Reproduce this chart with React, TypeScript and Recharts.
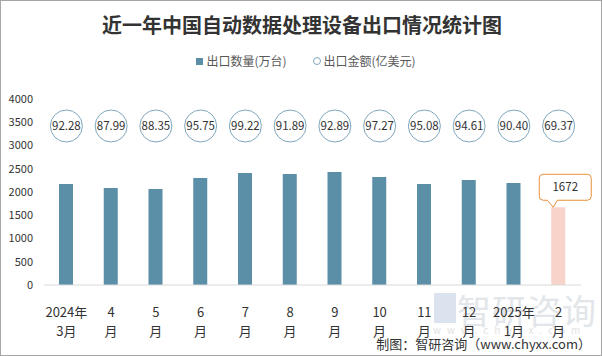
import { Bar, Cell, ComposedChart, LabelList, Line, XAxis, YAxis } from "recharts";

const MONTHS = ["2024年3月", "4月", "5月", "6月", "7月", "8月", "9月", "10月", "11月", "12月", "2025年1月", "2月"];
const TICK_TOP = ["2024年", "4", "5", "6", "7", "8", "9", "10", "11", "12", "2025年", "2"];
const TICK_BOTTOM = ["3月", "月", "月", "月", "月", "月", "月", "月", "月", "月", "1月", "月"];
const QTY = [2172, 2086, 2065, 2301, 2409, 2387, 2430, 2323, 2172, 2258, 2194, 1672];
const AMOUNT = [92.28, 87.99, 88.35, 95.75, 99.22, 91.89, 92.89, 97.27, 95.08, 94.61, 90.4, 69.37];
const Y_TICKS = [0, 500, 1000, 1500, 2000, 2500, 3000, 3500, 4000];

const data = MONTHS.map((m, i) => ({ month: m, qty: QTY[i], amount: AMOUNT[i] }));

const BAR = "#5b8fa7";
const LAST_BAR = "#f8d3ca";
const RING = "#7fa7bc";
const FONT = '"Noto Sans CJK SC", "Noto Sans", sans-serif';
const CIRCLE_Y = 125;

function MonthTick(props: any) {
  const { x, y, index } = props;
  return (
    <g>
      <text x={x} y={y} dy={24} textAnchor="middle" fontSize={13} fill="#333" fontFamily={FONT}>
        {TICK_TOP[index]}
      </text>
      <text x={x} y={y} dy={43} textAnchor="middle" fontSize={13} fill="#333" fontFamily={FONT}>
        {TICK_BOTTOM[index]}
      </text>
    </g>
  );
}

function AmountDot(props: any) {
  const { cx, payload, index } = props;
  if (cx == null) return null;
  return (
    <g key={index}>
      <circle cx={cx} cy={CIRCLE_Y} r={16} fill="#fff" stroke={RING} strokeWidth={1} />
      <text x={cx} y={CIRCLE_Y + 4} textAnchor="middle" fontSize={11.5} fill="#333" fontFamily={FONT}>
        {payload.amount.toFixed(2)}
      </text>
    </g>
  );
}

// callout box over the last (highlighted) bar
function Callout(props: any) {
  const { x, y, width, index, value } = props;
  if (index !== QTY.length - 1) return null;
  const cx = x + width / 2;
  const L = cx - 19;
  const R = cx + 33;
  const T = y - 33;
  const B = y - 7;
  const r = 4;
  const d = `M${L + r},${T} H${R - r} Q${R},${T} ${R},${T + r} V${B - r} Q${R},${B} ${R - r},${B} H${cx - 1} L${cx - 5},${y} L${cx - 11},${B} H${L + r} Q${L},${B} ${L},${B - r} V${T + r} Q${L},${T} ${L + r},${T} Z`;
  return (
    <g>
      <path d={d} fill="#fff" stroke="#e8913a" strokeWidth={1} />
      <text x={(L + R) / 2} y={(T + B) / 2 + 4} textAnchor="middle" fontSize={11.5} fill="#333" fontFamily={FONT}>
        {value}
      </text>
    </g>
  );
}

export default function App() {
  return (
    <div
      style={{
        position: "absolute",
        left: 0,
        top: 0,
        width: 602,
        height: 356,
        boxSizing: "border-box",
        border: "1px solid #a6a6a6",
        background: "#fff",
        fontFamily: FONT,
        overflow: "hidden",
      }}
    >
      <div
        style={{
          position: "absolute",
          left: 0,
          width: 602,
          top: 10,
          textAlign: "center",
          fontSize: 20,
          fontWeight: 700,
          color: "#333",
          lineHeight: "28px",
        }}
      >
        近一年中国自动数据处理设备出口情况统计图
      </div>
      <div
        style={{
          position: "absolute",
          left: 0,
          width: 602,
          top: 51,
          display: "flex",
          justifyContent: "center",
          fontSize: 12,
          color: "#595959",
          lineHeight: "18px",
        }}
      >
        <span style={{ display: "flex", alignItems: "center", marginLeft: 8 }}>
          <span style={{ width: 7, height: 7, background: BAR, marginRight: 3 }} />
          出口数量(万台)
        </span>
        <span style={{ display: "flex", alignItems: "center", marginLeft: 26 }}>
          <span
            style={{
              width: 6,
              height: 6,
              borderRadius: "50%",
              border: `1px solid ${RING}`,
              marginRight: 3,
            }}
          />
          出口金额(亿美元)
        </span>
      </div>
      {/* faint watermark */}
      <div
        style={{
          position: "absolute",
          left: 456,
          top: 290,
          fontSize: 34,
          color: "#e2e5e9",
          letterSpacing: 1,
          lineHeight: "38px",
        }}
      >
        智研咨询
      </div>
      <div
        style={{
          position: "absolute",
          left: 433,
          top: 292,
          width: 22,
          height: 30,
          background: "#dbe3ee",
        }}
      />
      <div
        style={{
          position: "absolute",
          left: 432,
          top: 323,
          fontSize: 10,
          color: "#e2e2e2",
          letterSpacing: 6,
          lineHeight: "12px",
        }}
      >
        www.chyxx.com
      </div>
      <div style={{ position: "absolute", left: 0, top: 0 }}>
        <ComposedChart
          width={602}
          height={356}
          data={data}
          margin={{ top: 98, right: 22, bottom: 22, left: 8 }}
        >
          <XAxis
            dataKey="month"
            axisLine={{ stroke: "#d9d9d9" }}
            tickLine={false}
            tick={<MonthTick />}
            interval={0}
            height={50}
          />
          <YAxis
            domain={[0, 4000]}
            ticks={Y_TICKS}
            axisLine={false}
            tickLine={false}
            width={35}
            tickMargin={5}
            tick={{ fontSize: 11, fill: "#333", fontFamily: FONT }}
          />
          <YAxis yAxisId="amt" orientation="right" hide domain={[0, 100]} />
          <Bar dataKey="qty" barSize={14} isAnimationActive={false}>
            {data.map((_, i) => (
              <Cell key={i} fill={i === data.length - 1 ? LAST_BAR : BAR} />
            ))}
            <LabelList dataKey="qty" content={<Callout />} />
          </Bar>
          <Line
            yAxisId="amt"
            dataKey="amount"
            stroke="none"
            dot={<AmountDot />}
            activeDot={false}
            isAnimationActive={false}
          />
        </ComposedChart>
      </div>
      <div
        style={{
          position: "absolute",
          right: 10,
          top: 334,
          fontSize: 13,
          color: "#333",
          lineHeight: "18px",
        }}
      >
        制图：智研咨询（www.chyxx.com）
      </div>
    </div>
  );
}
